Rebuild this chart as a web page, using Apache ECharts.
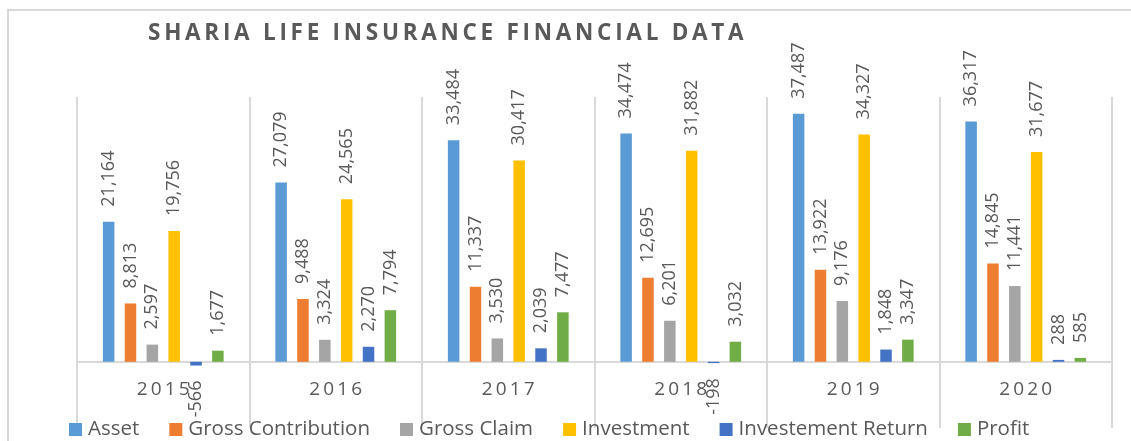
<!DOCTYPE html>
<html>
<head>
<meta charset="utf-8">
<script src="https://cdn.jsdelivr.net/npm/echarts@6/dist/echarts.min.js"></script>
<style>
  html, body { margin: 0; padding: 0; background: #fff; overflow: hidden; }
  #frame { position: absolute; left: 7px; top: 9px; width: 1300px; height: 600px; border: 2px solid #d9d9d9; }
  #main { position: absolute; left: 0; top: 0; width: 1131px; height: 441px; }
</style>
</head>
<body>
<div id="frame"></div>
<div id="main"></div>
<script>
var TITLE = 'SHARIA LIFE INSURANCE FINANCIAL DATA';
var years = ['2015', '2016', '2017', '2018', '2019', '2020'];

var asset = [21164, 27079, 33484, 34474, 37487, 36317];
var grossContribution = [8813, 9488, 11337, 12695, 13922, 14845];
var grossClaim = [2597, 3324, 3530, 6201, 9176, 11441];
var investment = [19756, 24565, 30417, 31882, 34327, 31677];
var investmentReturn = [-566, 2270, 2039, -198, 1848, 288];
var profit = [1677, 7794, 7477, 3032, 3347, 585];

var seriesNames = ['Asset', 'Gross Contribution', 'Gross Claim', 'Investment', 'Investement Return', 'Profit'];
var seriesData = [asset, grossContribution, grossClaim, investment, investmentReturn, profit];
var colors = ['#5b9bd5', '#ed7d31', '#a5a5a5', '#ffc000', '#4472c4', '#70ad47'];

var FONT = 'Open Sans';
var GREY = '#595959';

// no letterSpacing in canvas text, so pad with thin spaces
function spaced(s, sep) {
    return s.split('').join(sep);
}

function fmt(v) {
    return Number(v).toLocaleString('en-US');
}

var chart = echarts.init(document.getElementById('main'));

var series = seriesNames.map(function (name, i) {
    return {
        name: name,
        type: 'bar',
        barGap: '90%',
        barCategoryGap: '30%',
        itemStyle: { color: colors[i] },
        label: {
            show: true,
            position: 'top',
            rotate: 90,
            align: 'left',
            verticalAlign: 'middle',
            distance: 15,
            color: GREY,
            fontFamily: FONT,
            fontSize: 18,
            formatter: function (p) { return fmt(p.value); }
        },
        data: seriesData[i].map(function (v) {
            if (v >= 0) return v;
            // negative values: label hangs below the bar
            return {
                value: v,
                label: { position: 'bottom', align: 'right' }
            };
        })
    };
});

var option = {
    animation: false,
    color: colors,
    title: {
        text: spaced(TITLE, '\u2009'),
        left: 148,
        top: 22,
        padding: 0,
        textStyle: {
            color: GREY,
            fontFamily: FONT,
            fontWeight: 'bold',
            fontSize: 22.5
        }
    },
    legend: {
        data: seriesNames,
        left: 64,
        top: 414,
        itemWidth: 13,
        itemHeight: 13,
        itemGap: 30,
        icon: 'rect',
        textStyle: {
            color: GREY,
            fontFamily: FONT,
            fontSize: 20.5,
            padding: [0, 0, 0, 1]
        }
    },
    grid: {
        left: 77,
        right: 19,
        top: 97,
        bottom: 13,
        containLabel: false,
        outerBoundsMode: 'none'
    },
    xAxis: {
        type: 'category',
        data: years,
        axisLine: { onZero: true, lineStyle: { color: '#d9d9d9', width: 2 } },
        axisTick: { show: false },
        splitLine: { show: true, interval: 0, lineStyle: { color: '#d9d9d9', width: 2 } },
        axisLabel: {
            // labels sit under the zero line, not at the grid bottom
            margin: -48,
            color: GREY,
            fontFamily: FONT,
            fontSize: 19,
            formatter: function (v) { return spaced(v, '\u2009'); }
        }
    },
    yAxis: {
        type: 'value',
        min: -10000,
        max: 40000,
        interval: 10000,
        show: false,
        splitLine: { show: false }
    },
    series: series
};

chart.setOption(option);
</script>
</body>
</html>
